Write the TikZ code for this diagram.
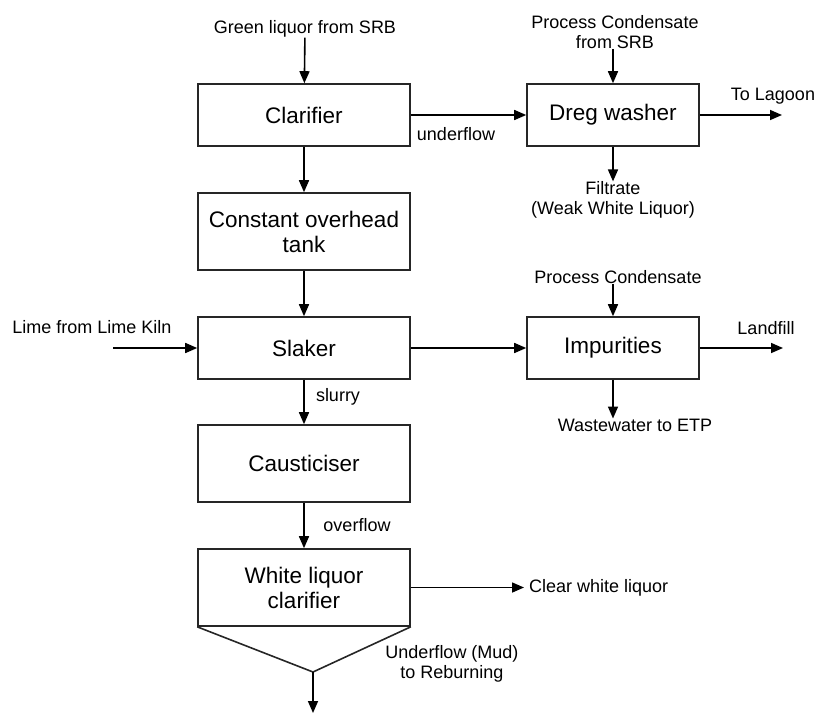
\documentclass[tikz,border=0pt]{standalone}
\usepackage{fontspec}
\setmainfont{Liberation Sans}
\usetikzlibrary{arrows.meta}
\begin{document}
\begin{tikzpicture}[x=1pt,y=-1pt,
  unit/.style={draw=black!85, line width=1.6pt, minimum width=212pt, minimum height=62pt,
    inner sep=0pt, align=center, font=\fontsize{22.5}{25}\selectfont},
  sideunit/.style={unit, minimum width=172pt},
  lbl/.style={inner sep=0pt, align=center, font=\fontsize{18}{20}\selectfont},
  flow/.style={line width=1.6pt, -{Triangle[length=12pt,width=10pt]}},
  plain/.style={line width=1.6pt}]
\useasboundingbox (0,0) rectangle (817,713);

% process units
\node[unit] (clar) at (304,115) {Clarifier};
\node[sideunit] (dreg) at (613,115) {Dreg washer};
\node[unit, minimum height=77pt] (cot) at (304,231.5) {Constant overhead\\tank};
\node[unit] (slak) at (304,348) {Slaker};
\node[sideunit] (imp) at (613,348) {Impurities};
\node[unit, minimum height=77pt] (caus) at (304,463.5) {Causticiser};
\node[unit, minimum height=77pt] (wlc) at (304,587.5) {White liquor\\clarifier};

% stream labels
\node[lbl] (green) at (305,29) {Green liquor from SRB};
\node[lbl] (pcs) at (615,32) {Process Condensate\\from SRB};
\node[lbl] (filt) at (613,200) {Filtrate\\(Weak White Liquor)};
\node[lbl] (lagoonlbl) at (773,96) {To Lagoon};
\node[lbl] (uflbl) at (456,134) {underflow};
\node[lbl] (limelbl) at (92,327) {Lime from Lime Kiln};
\node[lbl] (pc) at (618,277) {Process Condensate};
\node[lbl] (landlbl) at (766,328) {Landfill};
\node[lbl] (ww) at (635,425) {Wastewater to ETP};
\node[lbl] (slurry) at (338,397) {slurry};
\node[lbl] (over) at (357,525) {overflow};
\node[lbl, anchor=west] (clear) at (529,587.5) {Clear white liquor};
\node[lbl] (mud) at (452,664) {Underflow (Mud)\\to Reburning};

% free ends
\coordinate (lagoon) at (782,115);
\coordinate (lime) at (113,348);
\coordinate (land) at (783,348);
\coordinate (clearend) at (524,587.5);
\coordinate (apex) at (313,672);
\coordinate (reburn) at (313,713);

% connectors
\draw[flow] (green) -- (clar);
\draw[flow] (clar) -- (dreg);
\draw[flow] (pcs.south -| dreg.north) -- (dreg);
\draw[flow] (dreg) -- (lagoon);
\draw[flow] (dreg) -- (filt);
\draw[flow] (clar) -- (cot);
\draw[flow] (cot) -- (slak);
\draw[flow] (lime) -- (slak);
\draw[flow] (slak) -- (imp);
\draw[flow] (pc.south -| imp.north) -- (imp);
\draw[flow] (imp) -- (land);
\draw[flow] (imp.south) -- (imp.south |- ww.north);
\draw[flow] (slak) -- (caus);
\draw[flow] (caus) -- (wlc);
\draw[flow] (wlc.east) -- (clearend);
\draw[plain, draw=black!85, line join=miter] (wlc.south west) -- (apex) -- (wlc.south east);
\draw[flow] (apex) -- (reburn);
\end{tikzpicture}
\end{document}
